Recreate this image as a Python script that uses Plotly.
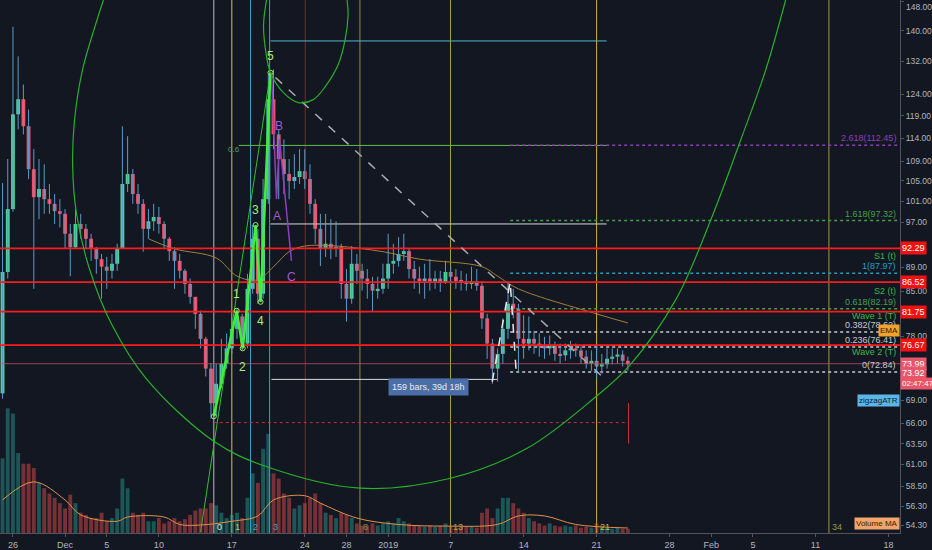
import math
import pandas as pd
import plotly.graph_objects as go

# ---------------- data ----------------
start = pd.Timestamp("2018-11-25 00:00")   # 12h candles
first_open = 69.9
close = [88.2, 99.5, 119.3, 122.8, 116.6, 107.4, 101.8, 103.4, 101.4, 100.5,
         99.1, 98.6, 94.9, 92.5, 96.7, 95.8, 94.0, 92.2, 90.4, 89.1,
         88.4, 89.6, 92.2, 104.4, 106.4, 102.4, 100.5, 95.8, 97.2, 98.0,
         96.7, 94.0, 91.8, 90.1, 88.4, 86.2, 84.1, 81.4, 77.6, 73.3,
         68.6, 71.2, 74.0, 76.2, 79.1, 81.0, 76.9, 85.4, 94.0, 84.6,
         101.4, 122.8, 114.8, 109.5, 106.4, 105.0, 105.8, 107.0, 105.4, 100.5,
         95.8, 92.2, 93.1, 92.2, 92.5, 86.2, 83.8, 89.6, 88.4, 87.1,
         86.2, 85.1, 85.4, 87.1, 89.6, 90.1, 91.3, 91.8, 88.7, 87.1,
         86.7, 87.1, 86.6, 87.1, 86.4, 88.2, 87.4, 86.7, 86.6, 86.2,
         86.6, 85.9, 80.7, 76.9, 73.3, 75.4, 79.1, 83.0, 82.2, 77.6,
         76.9, 77.6, 76.9, 76.5, 76.2, 76.6, 75.4, 75.2, 75.9, 76.2,
         75.9, 75.0, 74.0, 74.4, 73.6, 73.9, 74.7, 75.0, 75.3, 74.4, 73.92]
high = [104.6, 109.5, 141.1, 133.3, 126.3, 120.4, 111.6, 109.5, 108.4, 104.4,
        102.4, 101.4, 99.5, 96.7, 99.5, 98.6, 96.7, 94.9, 92.5, 91.3,
        90.8, 91.3, 93.1, 116.6, 114.4, 107.4, 104.4, 101.4, 99.5, 100.5,
        99.9, 97.2, 94.3, 92.5, 91.3, 88.7, 87.1, 84.1, 81.9, 77.9,
        74.0, 74.0, 77.6, 78.4, 80.7, 82.2, 81.4, 87.9, 96.5, 95.8,
        105.4, 128.8, 130.0, 115.9, 113.7, 109.5, 110.5, 111.6, 111.6, 108.4,
        101.4, 98.6, 98.6, 97.6, 97.2, 93.1, 88.7, 92.7, 91.3, 89.6,
        88.7, 87.4, 87.4, 89.6, 94.9, 93.1, 94.3, 94.9, 92.2, 90.1,
        89.1, 89.6, 90.4, 88.4, 88.4, 90.1, 89.1, 88.7, 88.4, 87.9,
        89.1, 88.7, 86.7, 81.4, 77.6, 76.2, 80.7, 86.6, 85.4, 83.0,
        81.2, 81.0, 78.8, 78.4, 77.9, 78.1, 77.2, 76.9, 76.9, 77.3,
        76.9, 76.5, 75.9, 75.9, 76.9, 75.4, 76.2, 76.2, 76.2, 75.9, 75.0]
low = [69.2, 87.1, 99.0, 115.9, 114.8, 105.4, 85.4, 97.6, 98.6, 98.6,
       96.7, 96.1, 92.2, 87.5, 92.2, 94.0, 92.2, 90.1, 87.9, 83.8,
       85.4, 87.1, 88.4, 92.2, 102.8, 100.5, 98.6, 91.7, 94.0, 95.4,
       94.9, 92.2, 90.1, 85.4, 87.1, 84.6, 83.0, 79.1, 76.2, 72.2,
       66.6, 66.9, 70.6, 73.3, 75.4, 77.6, 75.9, 76.2, 84.6, 83.0,
       83.8, 100.5, 111.6, 101.4, 102.4, 101.4, 103.4, 104.4, 103.4, 98.6,
       93.1, 89.2, 90.8, 90.4, 90.8, 83.8, 80.2, 83.0, 86.2, 85.1,
       83.8, 81.7, 83.8, 84.6, 85.4, 87.9, 89.1, 90.1, 87.1, 85.4,
       84.6, 83.8, 85.1, 85.4, 84.9, 86.2, 85.9, 85.4, 85.1, 85.1,
       85.4, 85.1, 79.1, 74.7, 71.2, 71.5, 74.0, 77.6, 80.7, 72.9,
       74.7, 75.9, 75.4, 75.0, 74.7, 75.2, 74.4, 74.0, 74.4, 74.7,
       75.0, 74.0, 73.3, 73.0, 71.9, 72.6, 73.3, 73.9, 74.0, 73.6, 73.0]
volume = [70, 117, 112, 75, 65, 65, 61, 47, 42, 37,
          33, 28, 23, 36, 28, 19, 17, 14, 14, 19,
          11, 14, 23, 51, 42, 19, 17, 19, 11, 11,
          14, 9, 11, 14, 11, 13, 17, 21, 23, 23,
          28, 26, 19, 14, 17, 19, 14, 33, 56, 47,
          79, 93, 56, 51, 37, 33, 23, 26, 28, 33,
          37, 28, 19, 17, 14, 19, 17, 14, 9, 7,
          7, 9, 7, 9, 11, 9, 14, 11, 9, 7,
          7, 6, 7, 6, 7, 9, 6, 5, 6, 6,
          6, 5, 19, 23, 14, 23, 33, 33, 28, 23,
          19, 14, 11, 9, 7, 9, 7, 6, 7, 6,
          7, 5, 6, 5, 9, 6, 5, 4, 5, 4, 4]

# Volume MA and EMA at candle indices
vol_ma_idx = [0, 6, 12, 15, 22, 24, 31, 34, 38, 44, 49, 52, 58, 61, 68, 76, 85, 95, 99, 104, 110, 120]
vol_ma = [31, 48, 31, 17, 11, 15, 15, 8, 7.5, 11, 16, 31, 35, 28, 14, 8, 6.5, 8, 16, 16, 8, 4.7]
ema_idx = [28, 33, 41, 45, 49, 52, 55, 58, 64, 73, 80, 92, 95, 99, 114, 120]
ema = [94.0, 92.2, 90.6, 87.5, 86.9, 89.1, 91.7, 92.7, 92.7, 91.7, 90.4, 89.1, 87.5, 85.4, 81.4, 80.0]

red_levels = [92.29, 86.52, 81.75, 76.67]
last_price = 73.99

fib_ratios = ["2.618", "1.618", "1", "0.618", "0.382", "0.236", "0"]
fib_prices = [112.45, 97.32, 87.97, 82.19, 78.62, 76.41, 72.84]
fib_colors = ["#8e3fb5", "#43a047", "#1fa2bd", "#43a047", "#c9c9cc", "#c9c9cc", "#c9c9cc"]

tz_dates = ["2018-12-15 06:30", "2018-12-17 00:00", "2018-12-18 19:00", "2018-12-20 15:00",
            "2018-12-24 01:00", "2018-12-29 07:00", "2019-01-06 23:30", "2019-01-21 00:00",
            "2019-02-12 07:00"]
tz_labels = ["0", "1", "2", "3", "", "8", "13", "21", "34"]
tz_colors = ["#b9b9c2", "#cfc24a", "#3aa3bf", "#3aa3bf", "#a3162a", "#8f8c3a", "#aaa23c", "#c8b735", "#9c9a3c"]

wave_t = ["2018-12-15 06:30", "2018-12-17 11:15", "2018-12-18 01:00", "2018-12-19 06:45",
          "2018-12-19 18:15", "2018-12-20 17:00"]
wave_p = [66.9, 81.9, 76.2, 96.5, 83.3, 129.2]
wave_lbl = ["", "1", "2", "3", "4", "5"]

abc_t = ["2018-12-20 19:25", "2018-12-21 07:00", "2018-12-21 13:45", "2018-12-22 17:15"]
abc_p = [128.8, 101.4, 113.7, 90.1]

x_tickvals = ["2018-11-26", "2018-12-01", "2018-12-05", "2018-12-10", "2018-12-17", "2018-12-24",
              "2018-12-28", "2019-01-01", "2019-01-07", "2019-01-14", "2019-01-21", "2019-01-28",
              "2019-02-01", "2019-02-05", "2019-02-11", "2019-02-18"]
x_ticktext = ["26", "Dec", "5", "10", "17", "24", "28", "2019", "7", "14", "21", "28",
              "Feb", "5", "11", "18"]
y_tickvals = [148, 140, 132, 124, 119, 114, 109, 105, 101, 97, 89, 85, 78, 69, 66, 63.5, 61, 58.5, 56.3, 54.3]

# ---------------- derived ----------------
n = len(close)
times = [start + pd.Timedelta(hours=12 * i) for i in range(n)]
opens = [first_open] + close[:-1]
up = [c >= o for o, c in zip(opens, close)]

BG = "#131722"
UP = "#4ecf9f"
DN = "#ef5068"
FONT = "Liberation Sans Narrow, Liberation Sans, Arial, sans-serif"
XR = [pd.Timestamp("2018-11-24 18:10"), pd.Timestamp("2019-02-19 02:40")]
YR = [math.log10(53.5), math.log10(148.5)]
W, H, MR, MB = 932, 550, 27, 15
PW, PH = W - MR, H - MB
BAR_W = 12 * 3600 * 1000 * 0.74

fig = go.Figure()

# volume
fig.add_trace(go.Bar(x=times, y=volume, yaxis="y2",
                     marker_color=["rgba(38,166,154,0.45)" if u else "rgba(239,83,80,0.45)" for u in up],
                     marker_line_width=0, width=BAR_W, hoverinfo="skip"))
fig.add_trace(go.Scatter(x=[times[i] for i in vol_ma_idx], y=vol_ma, yaxis="y2", mode="lines",
                         line=dict(color="#e0904a", width=1, shape="spline"), hoverinfo="skip"))


def hline(t0, t1, p, color, width=1, dash="solid"):
    fig.add_trace(go.Scatter(x=[t0, t1], y=[p, p], mode="lines",
                             line=dict(color=color, width=width, dash=dash), hoverinfo="skip"))


def seg(ts, ps, color, width=1, dash="solid"):
    fig.add_trace(go.Scatter(x=ts, y=ps, mode="lines",
                             line=dict(color=color, width=width, dash=dash), hoverinfo="skip"))


# vertical fib time zones
for d, c in zip(tz_dates, tz_colors):
    fig.add_trace(go.Scatter(x=[d, d], y=[10 ** YR[0], 10 ** YR[1]], mode="lines",
                             line=dict(color=c, width=1), hoverinfo="skip"))

# rectangle
fig.add_shape(type="rect", xref="x", yref="y", x0="2019-01-12 17:00", x1="2019-01-26 17:45",
              y0=math.log10(87.0), y1=math.log10(97.2), line=dict(color="#c2c24a", width=1),
              fillcolor="rgba(120,123,134,0.22)", layer="below")

# horizontal drawings
hline("2018-12-20 17:00", "2019-01-21 23:00", 137.3, "#4fb7c9", 1)
hline("2018-12-17 16:00", "2019-01-21 23:00", 112.4, "#5fbf4a", 1)
hline("2018-12-20 17:00", "2019-01-21 23:00", 96.7, "#d8d8dc", 1)
hline("2018-12-20 19:25", "2019-01-11 11:15", 71.8, "#d8d8dc", 1)
hline("2018-12-15 06:30", "2019-01-24 01:30", 66.1, "#c23040", 1, "dot")
seg(["2019-01-24 01:30", "2019-01-24 01:30"], [68.6, 63.5], "#c23040", 1)

# fib extension dotted levels
for p, c in zip(fib_prices, fib_colors):
    hline("2019-01-12 17:00", XR[1], p, c, 1.5, "dot")

# EMA
fig.add_trace(go.Scatter(x=[times[i] for i in ema_idx], y=ema, mode="lines",
                         line=dict(color="#a0803a", width=1, shape="spline"), hoverinfo="skip"))

# wicks
wx, wy = [], []
for t, lo, hi in zip(times, low, high):
    wx += [t, t, None]
    wy += [lo, hi, None]
fig.add_trace(go.Scatter(x=wx, y=wy, mode="lines", line=dict(color="#5a9cc6", width=1), hoverinfo="skip"))

# candle bodies (bars from min(open,close) to max(open,close))
body_base = [min(o, c) for o, c in zip(opens, close)]
body_len = [max(abs(c - o), 0.15) for o, c in zip(opens, close)]
fig.add_trace(go.Bar(x=times, y=body_len, base=body_base,
                     marker_color=[UP if u else DN for u in up], marker_line_width=0,
                     width=BAR_W, hoverinfo="skip"))

# red horizontal levels
for p in red_levels:
    hline(XR[0], XR[1], p, "#ff1c1c", 1.8)
hline(XR[0], XR[1], last_price, "rgba(200,80,105,0.75)", 1)

# fan line & elliott wave
seg(["2018-12-14 00:00", "2018-12-20 17:00"], [53.6, 129.2], "#2fbf2f", 1)
fig.add_trace(go.Scatter(x=wave_t, y=wave_p, mode="lines+markers",
                         line=dict(color="#3cf03c", width=2.5),
                         marker=dict(symbol="circle-open", size=5, color="#9be86b"), hoverinfo="skip"))
seg(abc_t, abc_p, "#8e3fc0", 1.5)

# dashed diagonals
seg(["2018-12-21 04:30", "2019-01-21 18:30"], [128.0, 71.9], "#a9abb3", 1.5, "dash")
seg(["2019-01-10 23:45", "2019-01-12 17:00", "2019-01-13 06:45"], [71.5, 86.6, 72.9], "#e8e8ec", 1.5, "dash")

# free-hand circle drawings on a hidden pixel-like overlay axis
big_arc_x = [104, 96, 83, 75, 73, 77, 90, 112, 147, 215, 267, 362, 453, 530, 597, 633, 680, 715, 745, 770, 790]
big_arc_y = [0, 25, 70, 120, 165, 215, 270, 325, 380, 443, 468, 490, 480, 450, 400, 367, 300, 220, 140, 70, 0]
small_arc_x = [268, 265, 267, 272, 285, 300, 315, 327, 340, 347, 350, 349]
small_arc_y = [0, 25, 50, 73, 93, 103, 100, 87, 65, 40, 15, 0]
for ax_, ay_ in [(big_arc_x, big_arc_y), (small_arc_x, small_arc_y)]:
    fig.add_trace(go.Scatter(x=ax_, y=ay_, xaxis="x3", yaxis="y3", mode="lines",
                             line=dict(color="#27b02a", width=1.2, shape="spline"), hoverinfo="skip"))

ann = []


def lab(x, y, text, color, size=9, xanchor="center", yanchor="middle", xref="x", yref="y", **kw):
    if yref == "y":
        y = math.log10(y)
    ann.append(dict(x=x, y=y, xref=xref, yref=yref, text=text, showarrow=False,
                    font=dict(color=color, size=size, family=FONT), xanchor=xanchor, yanchor=yanchor, **kw))


# wave labels
wave_lbl_pos = [None, (82.9, 10), (75.2, -12), (97.5, 10), (82.2, -12), (130.5, 11)]
for t, p, l, pos in zip(wave_t, wave_p, wave_lbl, wave_lbl_pos):
    if l:
        lab(t, pos[0], l, "#a8ee78", 12, yshift=pos[1])
lab("2018-12-21 13:45", 114.9, "B", "#a35ad0", 12, yshift=8)
lab("2018-12-21 07:00", 99.0, "A", "#a35ad0", 12, yshift=-4)
lab("2018-12-22 17:15", 88.0, "C", "#a35ad0", 12, yshift=-4)
lab("2018-12-17 06:00", 111.6, "0.6", "#3fa86a", 8)

# time zone labels
for d, l, c in zip(tz_dates, tz_labels, tz_colors):
    if l:
        lab(d, 0.012, l, c if l != "0" else "#e0e0e6", 9, xanchor="left", yref="paper", xshift=1)

# fib labels
for r, p, c in zip(fib_ratios, fib_prices, fib_colors):
    lab(0.998, p, f"{r}({p:.2f})", c, 9, xanchor="right", yanchor="bottom", xref="paper")
for t, p in [("S1 (t)", 90.9), ("S2 (t)", 85.1), ("Wave 1 (T)", 81.0), ("Wave 2 (T)", 75.6)]:
    lab(0.998, p, t, "#3cb44a", 9, xanchor="right", xref="paper")

# measure box
lab("2019-01-04 21:30", 70.7, "159 bars, 39d 18h", "#e8ecf5", 9, bgcolor="#4a6ea8", borderpad=3)

# small pane labels
lab(1.0, 78.9, "EMA", "#2a1a00", 8, xanchor="right", xref="paper", bgcolor="#f0a22e", borderpad=1)
lab(1.0, 68.9, "zigzagATR", "#0c2030", 8, xanchor="right", xref="paper", bgcolor="#5ab6e6", borderpad=1)
lab(1.0, 0.005, "Volume MA", "#3a1a00", 8, xanchor="right", yanchor="bottom", xref="paper", yref="paper",
    bgcolor="#f2a56a", borderpad=1)

# top tick label that sits on the frame edge
lab(1.0, 1.0, "148.00", "#b2b5be", 8.5, xanchor="left", yanchor="top", xref="paper", yref="paper", xshift=4)

# axis price boxes
for p in red_levels:
    lab(1.0, p, f"{p:.2f}", "#ffffff", 9, xanchor="left", xref="paper", bgcolor="#f21010", borderpad=1)
lab(1.0, 73.99, "73.99", "#ffffff", 9, xanchor="left", xref="paper", bgcolor="#ea5468", borderpad=1)
lab(1.0, 73.92, "73.92", "#ffffff", 9, xanchor="left", xref="paper", bgcolor="#ea5468", borderpad=1, yshift=-9)
lab(1.0, 73.92, "02:47:47", "#ffffff", 8, xanchor="left", xref="paper", bgcolor="#ea5468", borderpad=1, yshift=-19)

fig.update_layout(
    width=W, height=H, margin=dict(l=0, r=MR, t=0, b=MB),
    paper_bgcolor=BG, plot_bgcolor=BG, showlegend=False,
    annotations=ann, barmode="overlay",
    xaxis=dict(type="date", range=XR, showgrid=False, zeroline=False, rangeslider=dict(visible=False),
               tickvals=x_tickvals, ticktext=x_ticktext, ticks="outside", ticklen=3, tickcolor="#50535e",
               showline=True, linecolor="#50535e", tickfont=dict(color="#b2b5be", size=9, family=FONT)),
    yaxis=dict(type="log", range=YR, side="right", showgrid=False, zeroline=False,
               tickvals=y_tickvals, ticktext=[f"{v:.2f}" for v in y_tickvals],
               ticks="outside", ticklen=3, tickcolor="#50535e", showline=True, linecolor="#50535e",
               tickfont=dict(color="#b2b5be", size=8.5, family=FONT)),
    yaxis2=dict(overlaying="y", range=[0, 500], visible=False, fixedrange=True),
    xaxis3=dict(overlaying="x", range=[0, PW], visible=False, fixedrange=True),
    yaxis3=dict(overlaying="y", range=[PH, 0], visible=False, fixedrange=True),
)

fig.write_html("out.html", config={"displayModeBar": False},
               post_script="document.body.style.margin='0';")
